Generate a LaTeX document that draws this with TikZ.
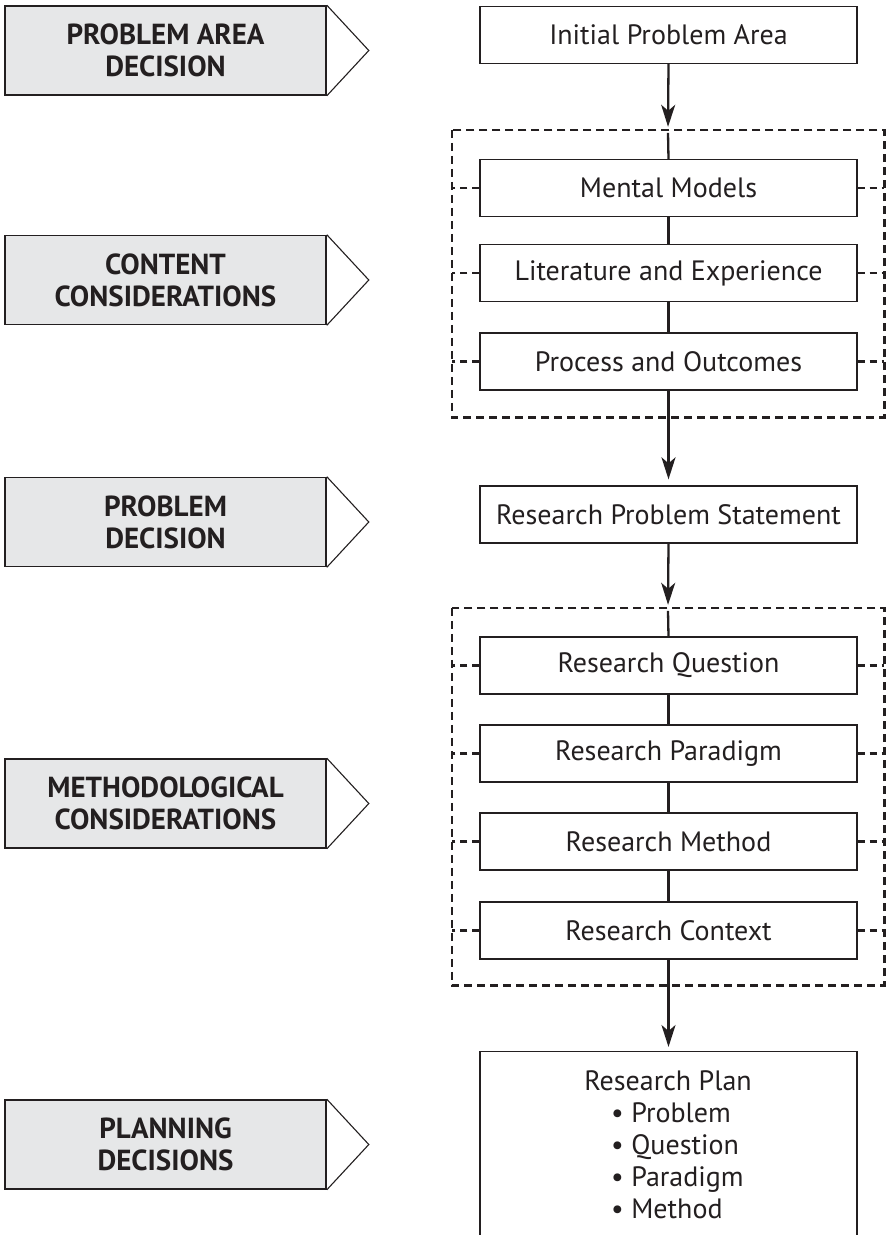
\documentclass[tikz,border=0pt]{standalone}
\usepackage{fontspec}
\setmainfont{PT Sans}
\usetikzlibrary{arrows.meta}
\definecolor{ink}{HTML}{231F20}
\definecolor{lgray}{HTML}{E6E7E8}
\begin{document}
\begin{tikzpicture}[x=1pt,y=-1pt,
  stepbox/.style={draw=ink, line width=1.3pt, minimum width=377pt, minimum height=57pt, inner sep=0pt, font=\fontsize{28}{32}\selectfont, text=ink},
  sidebox/.style={draw=ink, fill=lgray, line width=1.6pt, minimum width=321pt, minimum height=89pt, inner sep=0pt, align=center, font=\fontsize{29}{32}\selectfont\bfseries, text=ink},
  tri/.style={draw=ink, line width=1.1pt},
  groupframe/.style={inner sep=0pt},
  dashgroup/.style={draw=ink, line width=2.6pt, dash pattern=on 8pt off 5pt},
  link/.style={draw=ink, line width=2.3pt},
  flow/.style={link, -{Stealth[length=22pt,width=14pt,inset=6pt]}},
  tie/.style={draw=ink, line width=2.4pt, dash pattern=on 7pt off 5pt},
  plantext/.style={font=\fontsize{28}{32}\selectfont, text=ink, inner sep=0pt}]
\clip (0,0) rectangle (888,1235);
\fill[white] (0,0) rectangle (888,1235);

% left side labels
\node[sidebox] (s1) at (165.5,50.5) {PROBLEM AREA\\DECISION};
\node[sidebox] (s2) at (165.5,280) {CONTENT\\CONSIDERATIONS};
\node[sidebox] (s3) at (165.5,522) {PROBLEM\\DECISION};
\node[sidebox] (s4) at (165.5,803.5) {METHODOLOGICAL\\CONSIDERATIONS};
\node[sidebox] (s5) at (165.5,1144.5) {PLANNING\\DECISIONS};
\foreach \s in {s1,s2,s3,s4,s5}
  \draw[tri] (\s.north east) -- ([xshift=42pt]\s.east) -- (\s.south east);

% groups
\node[groupframe, minimum width=432pt, minimum height=287pt] (g1) at (668,273.5) {};
\node[groupframe, minimum width=432pt, minimum height=377pt] (g2) at (668,796.5) {};
\draw[dashgroup] (g1.north west) rectangle (g1.south east);
\draw[dashgroup] (g2.north west) rectangle (g2.south east);

% right boxes
\node[stepbox, fill=white] (init) at (668.5,35) {Initial Problem Area};
\node[stepbox, fill=white] (mental) at (668.5,188) {Mental Models};
\node[stepbox, fill=white] (lit) at (668.5,273) {Literature and Experience};
\node[stepbox, fill=white] (proc) at (668.5,361.5) {Process and Outcomes};
\node[stepbox, fill=white] (rps) at (668.5,514.5) {Research Problem Statement};
\node[stepbox, fill=white] (rq) at (668.5,665.5) {Research Question};
\node[stepbox, fill=white] (rp) at (668.5,753.5) {Research Paradigm};
\node[stepbox, fill=white] (rm) at (668.5,841.5) {Research Method};
\node[stepbox, fill=white] (rc) at (668.5,930.5) {Research Context};
\node[draw=ink, line width=1.3pt, minimum width=377pt, minimum height=260pt, inner sep=0pt, anchor=north] (plan) at (668.5,1051) {};
\node[plantext, anchor=base] (pt0) at (668,1090) {Research Plan};
\node[plantext, anchor=base west] (pt1) at (611,1122) {• Problem};
\node[plantext, anchor=base west] (pt2) at (611,1154) {• Question};
\node[plantext, anchor=base west] (pt3) at (611,1186) {• Paradigm};
\node[plantext, anchor=base west] (pt4) at (611,1218) {• Method};

% ties to group borders
\foreach \b in {mental,lit,proc}{
  \draw[tie] (\b.west) -- (\b.west -| g1.west);
  \draw[tie] (\b.east) -- (\b.east -| g1.east);
}
\foreach \b in {rq,rp,rm,rc}{
  \draw[tie] (\b.west) -- (\b.west -| g2.west);
  \draw[tie] (\b.east) -- (\b.east -| g2.east);
}

% connectors
\draw[flow, shorten >=3pt] (init.south) -- (g1.north);
\draw[link] ([yshift=-3pt]g1.north) -- (mental.north);
\draw[link] (mental.south) -- (lit.north);
\draw[link] (lit.south) -- (proc.north);
\draw[flow, shorten >=6pt] (proc.south) -- (rps.north);
\draw[flow, shorten >=3pt] (rps.south) -- (g2.north);
\draw[link] ([yshift=-3pt]g2.north) -- (rq.north);
\draw[link] (rq.south) -- (rp.north);
\draw[link] (rp.south) -- (rm.north);
\draw[link] (rm.south) -- (rc.north);
\draw[flow, shorten >=4pt] (rc.south) -- (plan.north);
\end{tikzpicture}
\end{document}
